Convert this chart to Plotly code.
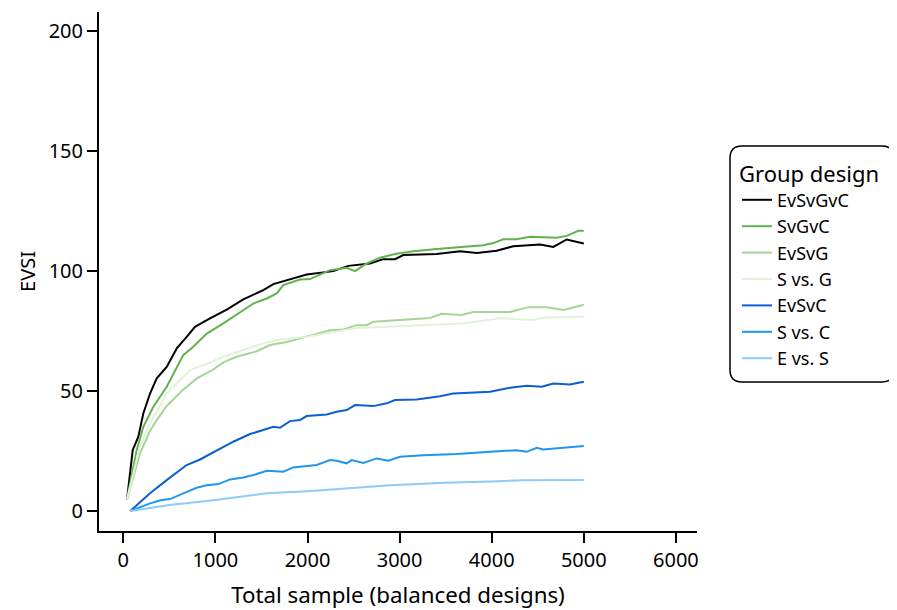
import plotly.graph_objects as go

# ---- data ----
series_names = ["EvSvGvC", "SvGvC", "EvSvG", "S vs. G", "EvSvC", "S vs. C", "E vs. S"]
series_colors = ["#000000", "#62b24c", "#a6d496", "#e2f2da", "#0a5fd2", "#2196f0", "#8ecbf8"]

x_evsvgvc = [40, 102, 163, 217, 290, 363, 471, 580, 688, 778, 941, 1123, 1303, 1520, 1629, 1774, 1919, 1991,
             2280, 2443, 2679, 2823, 2950, 3040, 3403, 3656, 3837, 4054, 4235, 4524, 4669, 4814, 5000]
y_evsvgvc = [4.8, 25.4, 31, 40.7, 49, 55.3, 60.1, 67.8, 72.6, 76.8, 80.3, 84, 88.2, 92.1, 94.6, 96.25, 97.9, 98.6,
             100, 102.2, 103.2, 105, 105, 106.7, 107.1, 108.3, 107.6, 108.5, 110.4, 111.1, 110.1, 113.2, 111.5]

x_svgvc = [40, 145, 217, 326, 471, 651, 760, 906, 1086, 1267, 1412, 1557, 1666, 1737, 1919, 2027, 2244, 2425,
           2516, 2643, 2787, 2950, 3149, 3403, 3656, 3909, 4018, 4126, 4271, 4416, 4706, 4814, 4941, 5000]
y_svgvc = [5, 25.4, 35.1, 43.5, 51.8, 65, 68.5, 74, 78.2, 83, 86.5, 88.6, 90.7, 94.2, 96.5, 96.7, 100.4, 101.4,
           100, 103.2, 105.6, 107.1, 108.3, 109.2, 110.1, 110.8, 111.7, 113.3, 113.3, 114.3, 113.9, 114.7, 116.8, 116.8]

x_evsvg = [40, 181, 290, 363, 471, 634, 797, 977, 1086, 1231, 1448, 1593, 1774, 1991, 2244, 2389, 2534, 2643,
           2715, 3330, 3457, 3674, 3800, 4199, 4397, 4597, 4777, 5000]
y_evsvg = [4.8, 24, 33.5, 37.9, 43.8, 50, 55.3, 59, 62, 64.3, 66.6, 69.2, 70.5, 72.9, 75.4, 75.7, 77.5, 77.5,
           78.9, 80.5, 82.2, 81.7, 83, 83, 85, 84.9, 83.8, 86]

x_svg = [40, 181, 308, 363, 471, 616, 724, 833, 906, 1086, 1303, 1520, 1701, 1919, 1991, 2534, 2896, 3257,
         3692, 4090, 4452, 4560, 5000]
y_svg = [4.8, 27, 38, 41.4, 49, 54.6, 58.75, 60.4, 61.3, 64.3, 67.1, 69.9, 71.5, 72.4, 72.6, 76.3, 76.8, 77.5,
         78.2, 80.4, 79.6, 80.7, 81]

x_evsvc = [75, 290, 471, 688, 833, 1014, 1194, 1376, 1557, 1629, 1701, 1810, 1919, 1991, 2208, 2317, 2425, 2516,
           2715, 2860, 2950, 3186, 3439, 3583, 3982, 4199, 4380, 4543, 4669, 4850, 5000]
y_evsvc = [0, 7.4, 12.9, 19.2, 21.5, 25.1, 28.9, 32.1, 34.4, 35.1, 34.7, 37.5, 38, 39.6, 40.3, 41.4, 42.1, 44.2,
           43.75, 44.9, 46.25, 46.5, 47.9, 49, 49.7, 51.4, 52.2, 51.8, 53.2, 52.8, 53.9]

x_svc = [75, 290, 417, 507, 651, 797, 906, 1032, 1159, 1303, 1412, 1557, 1737, 1846, 1919, 2100, 2244, 2317,
         2425, 2480, 2606, 2751, 2877, 3004, 3257, 3620, 3982, 4271, 4380, 4489, 4560, 5000]
y_svc = [0, 3.2, 4.6, 5, 7.4, 9.7, 10.8, 11.25, 13.2, 14, 15, 16.8, 16.4, 18.2, 18.5, 19.2, 21.25, 21,
         19.9, 21.25, 20.1, 21.95, 21, 22.6, 23.3, 23.75, 24.7, 25.4, 24.7, 26.4, 25.7, 27.1]

x_evs = [75, 500, 833, 1000, 1557, 2000, 2896, 3500, 4000, 4343, 5000]
y_evs = [0, 2.5, 3.9, 4.6, 7.4, 8.3, 10.8, 11.8, 12.3, 12.9, 13]

series_x = [x_evsvgvc, x_svgvc, x_evsvg, x_svg, x_evsvc, x_svc, x_evs]
series_y = [y_evsvgvc, y_svgvc, y_evsvg, y_svg, y_evsvc, y_svc, y_evs]

x_ticks = [0, 1000, 2000, 3000, 4000, 5000, 6000]
y_ticks = [0, 50, 100, 150, 200]

FONT = "Noto Sans"

fig = go.Figure()
for name, col, xs, ys in zip(series_names, series_colors, series_x, series_y):
    fig.add_trace(go.Scatter(x=xs, y=ys, mode="lines", name=name,
                             line=dict(color=col, width=2)))

# page has an 8px body margin; target pixel positions are in window coords
OFF = 8
W, H = 889, 602
ml, mr, mt, mb = 99 - OFF, 200, 12 - OFF, 79
pw, ph = W - ml - mr, H - mt - mb

def px2x(px):
    return (px - OFF - ml) / pw

def py2y(py):
    return (H - mb - (py - OFF)) / ph

# rounded legend frame
x0, x1 = px2x(730), px2x(894)
y0, y1 = py2y(382), py2y(146)
rx, ry = 12 / pw, 12 / ph
path = (f"M {x0+rx},{y1} L {x1-rx},{y1} Q {x1},{y1} {x1},{y1-ry} "
        f"L {x1},{y0+ry} Q {x1},{y0} {x1-rx},{y0} L {x0+rx},{y0} "
        f"Q {x0},{y0} {x0},{y0+ry} L {x0},{y1-ry} Q {x0},{y1} {x0+rx},{y1} Z")
fig.add_shape(type="path", path=path, xref="paper", yref="paper",
              line=dict(color="black", width=1.5), fillcolor="rgba(0,0,0,0)")

fig.update_layout(
    width=W, height=H,
    margin=dict(l=ml, r=mr, t=mt, b=mb, pad=0),
    paper_bgcolor="white", plot_bgcolor="white",
    font=dict(family=FONT, size=20, color="black"),
    showlegend=True,
    legend=dict(
        x=px2x(737), y=py2y(153), xanchor="left", yanchor="top",
        bgcolor="rgba(0,0,0,0)", borderwidth=0,
        title=dict(text="Group design", font=dict(size=22)),
        font=dict(size=18), tracegroupgap=0,
    ),
    xaxis=dict(
        range=[-264, 6229], tickvals=x_ticks, ticktext=[str(v) for v in x_ticks],
        showgrid=False, zeroline=False, showline=True, linecolor="black", linewidth=2,
        ticks="outside", ticklen=10, tickwidth=2, tickcolor="black",
        tickfont=dict(size=20),
        title=dict(text="Total sample (balanced designs)", standoff=15, font=dict(size=22.3)),
    ),
    yaxis=dict(
        range=[-8.3, 208], tickvals=y_ticks, ticktext=[str(v) for v in y_ticks],
        showgrid=False, zeroline=False, showline=True, linecolor="black", linewidth=2,
        ticks="outside", ticklen=10, tickwidth=2, tickcolor="black",
        tickfont=dict(size=20),
        title=dict(text="EVSI", standoff=8, font=dict(size=20)),
    ),
)

fig.write_html("out.html")
